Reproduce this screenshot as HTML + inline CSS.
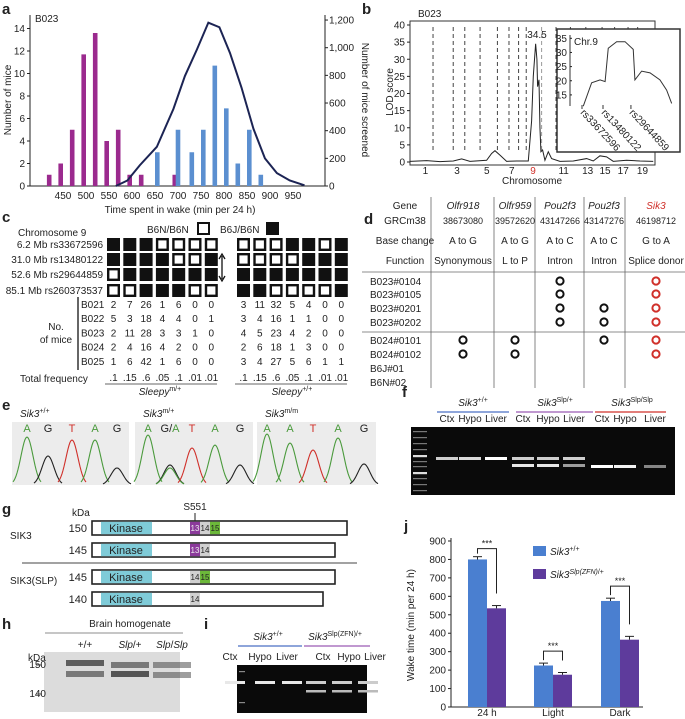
<!DOCTYPE html>
<html><head><meta charset="utf-8">
<style>
html,body{margin:0;padding:0;background:#fff;}
svg{display:block;font-family:"Liberation Sans",sans-serif;}
</style></head>
<body>
<svg id="fig" width="685" height="719" viewBox="0 0 685 719" xmlns="http://www.w3.org/2000/svg"></svg>
<script>
// ---------- Panel a data ----------
const aMagentaBins=[420,445,470,495,520,545,570,595,620,693];
const aMagentaCounts=[1,2,5,11.7,13.6,4,5,1,1,1];
const aBlueBins=[655,700,730,755,780,805,830,855,880];
const aBlueCounts=[3,5,3,5,10.7,6.9,2,5,1];
const aLineX=[565,590,617,654,690,715,741,766,790,813,838,864,889,915,943,975];
const aLineN=[0,40,150,283,557,795,986,1181,1148,962,712,414,200,93,40,5];
const aXTicks=[450,500,550,600,650,700,750,800,850,900,950];
const aLeftTicks=[0,2,4,6,8,10,12,14];
const aRightTicks=[0,200,400,600,800,1000,1200];
const aRightLabels=['0','200','400','600','800','1,000','1,200'];
// ---------- Panel b data ----------
const bGenomePos=[0,170,306,442,527,612,782,833,867,918,986,1088,1207,1241,1258,1282,1295,1302,1316,1326,1336,1353,1377,1411,1445,1530,1666,1802,1870,1938,2006,2074,2210,2346,2482];
const bLod=[0.2,0.4,0.1,0.3,0.9,0.2,0.5,2.5,3.3,2,0.2,0.3,0.3,12,25,34.5,30,22,24,10,3,3.5,0.5,3,1,0.2,0.3,1,0.3,1.8,1.5,0.2,0.5,0.3,0.2];
const bYTicks=[0,5,10,15,20,25,30,35,40];
const bChrLabels=['1','3','5','7','9','11','13','15','17','19'];
const bChrLabelPos=[157,480,784,1039,1255,1568,1813,1990,2176,2372];
const bChrBounds=[235,441,559,715,892,1010,1108,1186,1343,1490,1637,1794,1960,2088,2225,2323];
const insetPos=[0.6,4.6,8.6,11,12.5,16.5,20.5,24.4,25.2,28.4,32.4,37.1,40.3,42.7];
const insetLod=[11,19.3,20.3,19.7,31.5,33.8,33.8,31.1,20.3,23.4,22.8,20.3,16.7,12];
const insetTicks=[15,20,25,30,35];
const insetMarkers=['rs33672596','rs13480122','rs29644859'];
const insetMarkerPos=[0,10,23.3];
// ---------- Panel j data ----------
const jCats=['24 h','Light','Dark'];
const jWT=[800,225,575];
const jWTErr=[15,13,15];
const jMut=[535,175,365];
const jMutErr=[15,12,18];
const jTicks=[0,100,200,300,400,500,600,700,800,900];

const NS='http://www.w3.org/2000/svg';
const svg=document.getElementById('fig');
function mk(tag,attrs,name,parent){
  const e=document.createElementNS(NS,tag);
  for(const k in attrs) e.setAttribute(k,attrs[k]);
  
  
  (parent||svg).appendChild(e);
  return e;
}
function tx(x,y,s,name,o){
  o=o||{};
  const e=mk('text',{x:x,y:y,'font-size':o.fs||10,'text-anchor':o.a||'start',fill:o.c||'#222','font-weight':o.b?'bold':'normal','font-style':o.i?'italic':'normal'},name);
  if(o.rot!==undefined) e.setAttribute('transform','rotate('+o.rot+' '+x+' '+y+')');
  e.innerHTML=s;
  return e;
}
function ln(x1,y1,x2,y2,name,c,w,dash){
  const a={x1:x1,y1:y1,x2:x2,y2:y2,stroke:c||'#222','stroke-width':w||1};
  if(dash) a['stroke-dasharray']=dash;
  return mk('line',a,name);
}
function rc(x,y,w,h,name,fill,stroke,sw){
  return mk('rect',{x:x,y:y,width:w,height:h,fill:fill||'none',stroke:stroke||'none','stroke-width':sw||1},name);
}
const sup=s=>'<tspan dy="-4" font-size="7">'+s+'</tspan>';

// ================= Panel a =================
tx(2,14,'a','panel-a-label',{fs:15,b:true});
const xA=m=>63+(m-450)*23/50;
const yL=v=>186-v*11.25;
const yR=v=>186-v*0.1383;
ln(30,15,30,186,'a-left-axis');
ln(325,15,325,186,'a-right-axis');
ln(30,186,325,186,'a-x-axis');
aLeftTicks.forEach(v=>{ln(27,yL(v),30,yL(v),'a-left-tick');tx(25,yL(v)+3.5,String(v),'a-left-tick-label',{a:'end'});});
aRightTicks.forEach((v,i)=>{ln(325,yR(v),328,yR(v),'a-right-tick');tx(329,yR(v)+3.5,aRightLabels[i],'a-right-tick-label');});
aXTicks.forEach(v=>{tx(xA(v),199,String(v),'a-x-tick-label',{a:'middle'});});
tx(180,213,'Time spent in wake (min per 24 h)','a-x-axis-title',{a:'middle'});
tx(11,100,'Number of mice','a-left-axis-title',{a:'middle',rot:-90});
tx(362,100,'Number of mice screened','a-right-axis-title',{a:'middle',rot:90});
tx(35,22,'B023','a-strain-label');
aMagentaBins.forEach((b,i)=>{rc(xA(b)-2.3,yL(aMagentaCounts[i]),4.6,186-yL(aMagentaCounts[i]),'a-bar-sleepy','#9b2a8e');});
aBlueBins.forEach((b,i)=>{rc(xA(b)-2.3,yL(aBlueCounts[i]),4.6,186-yL(aBlueCounts[i]),'a-bar-normal','#5b8fd0');});
mk('polyline',{points:aLineX.map((m,i)=>xA(m)+','+yR(aLineN[i])).join(' '),fill:'none',stroke:'#1c2454','stroke-width':2},'a-screened-line');

// ================= Panel b =================
tx(362,14,'b','panel-b-label',{fs:15,b:true});
const xB=g=>410+g*245/2500;
const yB=v=>162-v*3.425;
rc(410,21,245,144,'b-plot-frame','none','#333',1);
bYTicks.forEach(v=>{ln(407,yB(v),410,yB(v),'b-y-tick');tx(405,yB(v)+3.5,String(v),'b-y-tick-label',{a:'end'});});
bChrLabels.forEach((s,i)=>{tx(xB(bChrLabelPos[i]),174,s,'b-chr-label',{a:'middle',c:s==='9'?'#d0302a':'#222'});});
tx(532,184,'Chromosome','b-x-axis-title',{a:'middle'});
tx(393,92,'LOD score','b-y-axis-title',{a:'middle',rot:-90});
tx(418,17,'B023','b-strain-label');
bChrBounds.forEach(g=>{ln(xB(g),27,xB(g),150,'b-chr-boundary',g===1343?'#999':'#444',1,'4,3');});
mk('polyline',{points:bGenomePos.map((g,i)=>xB(g)+','+yB(bLod[i])).join(' '),fill:'none',stroke:'#222','stroke-width':1},'b-lod-curve');
tx(537,38,'34.5','b-peak-label',{a:'middle'});
rc(557,29,123,123,'b-inset-frame','#fff','#333',1.5);
const xI=c=>582+c*2.1;
const yI=v=>38.3+(35-v)*2.83;
ln(570,35,570,106,'b-inset-y-axis','#333');
insetTicks.forEach(v=>{tx(567,yI(v)+3.5,String(v),'b-inset-y-tick-label',{a:'end'});ln(570,yI(v),572,yI(v),'b-inset-y-tick');});
tx(574,45,'Chr.9','b-inset-title');
mk('polyline',{points:insetPos.map((c,i)=>xI(c)+','+yI(insetLod[i])).join(' '),fill:'none',stroke:'#333','stroke-width':1},'b-inset-curve');
insetMarkers.forEach((s,i)=>{const x=xI(insetMarkerPos[i]);ln(x,105,x,109,'b-inset-marker-tick','#333');tx(x-2,113,s,'b-inset-marker-label',{rot:47,fs:10});});

// ================= Panel c =================
tx(2,222,'c','panel-c-label',{fs:15,b:true});
tx(18,236,'Chromosome 9','c-chromosome-title');
tx(147,233,'B6N/B6N','c-legend-b6n-text');
rc(198,223,11,11,'c-legend-open-square','#fff','#111',2);
tx(220,233,'B6J/B6N','c-legend-b6j-text');
rc(266,222,13,13,'c-legend-filled-square','#111');
const cMarkers=['6.2 Mb rs33672596','31.0 Mb rs13480122','52.6 Mb rs29644859','85.1 Mb rs260373537'];
const cLeft=[[1,1,1,0,0,0,0],[1,1,1,1,0,0,1],[0,1,1,1,1,1,1],[0,0,1,1,1,0,0]];
const cRight=[[0,0,0,1,1,0,1],[0,0,0,0,1,1,1],[1,1,1,1,1,1,1],[1,1,0,0,0,0,1]];
const rowY=[238,253,268,284];
cMarkers.forEach((m,r)=>{
  tx(103,rowY[r]+10,m,'c-marker-label',{a:'end'});
  for(let i=0;i<7;i++){
    [[cLeft,107],[cRight,237]].forEach(([g,x0])=>{
      const x=x0+i*16.3;
      if(g[r][i]) rc(x,rowY[r],13,13,'c-genotype-filled','#111');
      else rc(x+1.2,rowY[r]+1.2,10.6,10.6,'c-genotype-open','#fff','#111',2.4);
    });
  }
});
ln(222,256,222,279,'c-interval-arrow','#111',1.3);
mk('path',{d:'M219,259 L222,254 L225,259 M219,276 L222,281 L225,276',fill:'none',stroke:'#111','stroke-width':1.3},'c-arrow-heads');
const cRows=['B021','B022','B023','B024','B025'];
const cCounts=[[2,7,26,1,6,0,0,3,11,32,5,4,0,0],[5,3,18,4,4,0,1,3,4,16,1,1,0,0],[2,11,28,3,3,1,0,4,5,23,4,2,0,0],[2,4,16,4,2,0,0,2,6,18,1,3,0,0],[1,6,42,1,6,0,0,3,4,27,5,6,1,1]];
const cFreq=['.1','.15','.6','.05','.1','.01','.01','.1','.15','.6','.05','.1','.01','.01'];
ln(78,297,78,370,'c-row-bracket','#333',1.5);
tx(56,330,'No.','c-no-of-mice-label',{a:'middle'});
tx(56,343,'of mice','c-no-of-mice-label',{a:'middle'});
cRows.forEach((r,k)=>{
  const y=308+k*14.2;
  tx(81,y,r,'c-family-label');
  cCounts[k].forEach((v,i)=>{const x=(i<7?113.5+i*16.3:243.5+(i-7)*16.3);tx(x,y,String(v),'c-count',{a:'middle'});});
});
tx(20,382,'Total frequency','c-total-frequency-label');
cFreq.forEach((v,i)=>{const x=(i<7?113.5+i*16.3:243.5+(i-7)*16.3);tx(x,381,v,'c-frequency',{a:'middle'});});
ln(105,384,217,384,'c-left-underline','#333',0.8);
ln(235,384,347,384,'c-right-underline','#333',0.8);
tx(160,395,'<tspan font-style="italic">Sleepy</tspan>'+sup('m/+'),'c-sleepy-mutant-label',{a:'middle'});
tx(292,395,'<tspan font-style="italic">Sleepy</tspan>'+sup('+/+'),'c-sleepy-wt-label',{a:'middle'});

// ================= Panel d =================
tx(364,224,'d','panel-d-label',{fs:15,b:true});
[431,494,535,584,625].forEach(x=>ln(x,197,x,388,'d-column-divider','#666',0.8));
ln(362,272,685,272,'d-header-divider','#666',0.8);
ln(362,332,685,332,'d-group-divider','#666',0.8);
tx(405,209,'Gene','d-row-header',{a:'middle'});
tx(405,224,'GRCm38','d-row-header',{a:'middle'});
tx(405,244,'Base change','d-row-header',{a:'middle'});
tx(405,264,'Function','d-row-header',{a:'middle'});
const dCols=[463,515,560,604,656];
const dGenes=['Olfr918','Olfr959','Pou2f3','Pou2f3','Sik3'];
const dPos=['38673080','39572620','43147266','43147276','46198712'];
const dBase=['A to G','A to G','A to C','A to C','G to A'];
const dFunc=['Synonymous','L to P','Intron','Intron','Splice donor'];
dCols.forEach((x,i)=>{
  tx(x,209,dGenes[i],'d-gene-name',{a:'middle',i:true,c:i===4?'#d0302a':'#222'});
  tx(x,224,dPos[i],'d-position',{a:'middle',fs:9});
  tx(x,244,dBase[i],'d-base-change',{a:'middle'});
  tx(x,264,dFunc[i],'d-function',{a:'middle'});
});
const dSamples=['B023#0104','B023#0105','B023#0201','B023#0202','B024#0101','B024#0102','B6J#01','B6N#02'];
const dY=[281,294,308,322,340,354,368,382];
const dHits=[[0,0,1,0,1],[0,0,1,0,1],[0,0,1,1,1],[0,0,1,1,1],[1,1,0,1,1],[1,1,0,0,1],[0,0,0,0,0],[0,0,0,0,0]];
dSamples.forEach((s,r)=>{
  tx(370,dY[r]+4,s,'d-sample-label');
  dHits[r].forEach((h,c)=>{if(h) mk('circle',{cx:dCols[c],cy:dY[r],r:3.6,fill:'none',stroke:c===4?'#d0302a':'#111','stroke-width':2},'d-variant-circle');});
});

// ================= Panel e =================
tx(2,410,'e','panel-e-label',{fs:15,b:true});
const eBoxes=[[12,129,'Sik3'+sup('+/+'),[['A',27,48,'#4a9a3c'],['G',48,29,'#222'],['T',72,45,'#d0302a'],['A',95,45,'#4a9a3c'],['G',117,17,'#222']]],
 [135,253,'Sik3'+sup('m/+'),[['A',148,50,'#4a9a3c'],['G',170,20,'#222'],['',170,17,'#4a9a3c'],['T',192,37,'#d0302a'],['A',215,40,'#4a9a3c'],['G',240,20,'#222']]],
 [257,376,'Sik3'+sup('m/m'),[['A',267,51,'#4a9a3c'],['A',290,42,'#4a9a3c'],['T',313,35,'#d0302a'],['A',338,47,'#4a9a3c'],['G',364,21,'#222']]]];
eBoxes.forEach(([x0,x1,lab,pk],k)=>{
  rc(x0,422,x1-x0,63,'e-chromatogram-background','#ececec');
  tx(x0+8,417,'<tspan font-style="italic">'+lab.replace('<tspan','</tspan><tspan')+'</tspan>','e-genotype-label');
  pk.forEach(([L,cx,h,c])=>{
    let d='';for(let t=-14;t<=14;t+=1){const y=485-h*Math.exp(-(t*t)/(2*36));d+=(t===-14?'M':'L')+(cx+t)+','+y.toFixed(1);}
    mk('path',{d:d,fill:'none',stroke:c,'stroke-width':1.1},'e-trace-peak');
    if(L) tx(cx,432,k===1&&cx===170?'G/<tspan fill="#4a9a3c">A</tspan>':L,'e-base-call',{a:'middle',c:c,fs:11});
  });
});

// ================= Panel f =================
tx(402,397,'f','panel-f-label',{fs:15,b:true});
tx(473,406,'<tspan font-style="italic">Sik3</tspan>'+sup('+/+'),'f-group-label-wt',{a:'middle'});
tx(555,406,'<tspan font-style="italic">Sik3</tspan>'+sup('Slp/+'),'f-group-label-het',{a:'middle'});
tx(632,406,'<tspan font-style="italic">Sik3</tspan>'+sup('Slp/Slp'),'f-group-label-hom',{a:'middle'});
ln(437,412,509,412,'f-group-line-wt','#4a6fc4',1.2);
ln(516,412,593,412,'f-group-line-het','#9b5bb5',1.2);
ln(595,412,666,412,'f-group-line-hom','#d0302a',1.2);
const fLanes=[447,470,496,523,548,574,602,625,655];
const fNames=['Ctx','Hypo','Liver','Ctx','Hypo','Liver','Ctx','Hypo','Liver'];
fLanes.forEach((x,i)=>tx(x,422,fNames[i],'f-lane-label',{a:'middle'}));
rc(411,427,264,68,'f-gel','#0a0a0a');
[431,437,443,449,455,461,466,472,478,484,490].forEach((y,i)=>rc(413,y,14,i===4||i===7?2.2:1.2,'f-ladder-band',i===4||i===7?'#ddd':'#777'));
const fUp=[0.8,0.85,1,0.8,0.8,0.8,0,0,0], fLo=[0,0,0,0.9,0.9,0.6,1,0.95,0.5];
fLanes.forEach((x,i)=>{
  if(fUp[i]) rc(x-11,457,22,3,'f-band-upper','rgba(255,255,255,'+fUp[i]+')');
  if(fLo[i]) rc(x-11,i>5?465:464,22,3,'f-band-lower','rgba(255,255,255,'+fLo[i]+')');
});

// ================= Panel g =================
tx(2,514,'g','panel-g-label',{fs:15,b:true});
tx(72,516,'kDa','g-kda-label');
tx(195,510,'S551','g-site-label',{a:'middle'});
ln(195,513,195,521,'g-site-tick','#222',1);
const gBars=[[521,347,'150',['13','14','15']],[543,335,'145',['13','14']],[570,335,'145',['14','15']],[592,323,'140',['14']]];
const gCol={'13':'#8b3a9b','14':'#d0d0d0','15':'#6cb83a'};
gBars.forEach(([y,x1,k,ex])=>{
  rc(92,y,x1-92,14,'g-protein-bar','#fff','#222',1.6);
  rc(101,y+0.8,51,12.4,'g-kinase-domain','#7fcbd8');
  tx(126,y+11,'Kinase','g-kinase-label',{a:'middle',fs:11});
  tx(87,y+11,k,'g-kda-value',{a:'end',fs:11});
  ex.forEach((e,j)=>{const x=190+j*10;rc(x,y+0.8,10,12.4,'g-exon-'+e,gCol[e]);tx(x+5,y+10,e,'g-exon-label',{a:'middle',fs:8,c:e==='13'?'#eee':'#222'});});
});
ln(22,563,357,563,'g-divider','#444',1);
tx(10,539,'SIK3','g-sik3-label');
tx(10,584,'SIK3(SLP)','g-sik3-slp-label');

// ================= Panel h =================
tx(2,629,'h','panel-h-label',{fs:15,b:true});
tx(130,627,'Brain homogenate','h-title',{a:'middle'});
ln(45,633,183,633,'h-title-line','#666',0.8);
tx(85,648,'+/+','h-lane-label',{a:'middle'});
tx(130,648,'<tspan font-style="italic">Slp</tspan>/+','h-lane-label',{a:'middle'});
tx(172,648,'<tspan font-style="italic">Slp</tspan>/<tspan font-style="italic">Slp</tspan>','h-lane-label',{a:'middle'});
rc(44,652,136,60,'h-blot','#dcdcdc');
[[85,663,0.7],[85,674,0.55],[130,665,0.55],[130,674,0.75],[172,665,0.45],[172,675,0.45]].forEach(([x,y,o])=>rc(x-19,y-3,38,6,'h-blot-band','rgba(40,40,40,'+o+')'));
tx(28,661,'kDa','h-kda-label');
tx(46,668,'150','h-150-label',{a:'end'});ln(36,665,42,665,'h-150-tick','#444');
tx(46,697,'140','h-140-label',{a:'end'});ln(36,694,42,694,'h-140-tick','#444');

// ================= Panel i =================
tx(204,629,'i','panel-i-label',{fs:15,b:true});
tx(268,640,'<tspan font-style="italic">Sik3</tspan>'+sup('+/+'),'i-group-label-wt',{a:'middle'});
tx(335,640,'<tspan font-style="italic">Sik3</tspan>'+sup('Slp(ZFN)/+'),'i-group-label-het',{a:'middle'});
ln(238,646,302,646,'i-group-line-wt','#4a6fc4',1.2);
ln(304,646,370,646,'i-group-line-het','#9b5bb5',1.2);
const iLanes=[230,260,287,323,349,375];
['Ctx','Hypo','Liver','Ctx','Hypo','Liver'].forEach((s,i)=>tx(iLanes[i],660,s,'i-lane-label',{a:'middle'}));
rc(237,665,130,48,'i-gel','#0a0a0a');
[671,702].forEach(y=>rc(239,y,6,1.2,'i-ladder-band','#888'));
[0,1,2].forEach(i=>rc(iLanes[i]+5-10,681,20,3,'i-band-upper','#e8e8e8'));
[3,4,5].forEach(i=>{rc(iLanes[i]-17,681,20,3,'i-band-upper','#ccc');rc(iLanes[i]-17,690,20,2.5,'i-band-lower','#bbb');});

// ================= Panel j =================
tx(404,531,'j','panel-j-label',{fs:15,b:true});
const yJ=v=>707-v*166/900;
const jCx=[487,553,620];
ln(451,538,451,707,'j-y-axis');
ln(451,707,643,707,'j-x-axis');
jTicks.forEach(v=>{ln(448,yJ(v),451,yJ(v),'j-y-tick');tx(446,yJ(v)+3.5,String(v),'j-y-tick-label',{a:'end'});});
tx(414,625,'Wake time (min per 24 h)','j-y-axis-title',{a:'middle',rot:-90});
jCats.forEach((c,i)=>{
  const x=jCx[i];
  tx(x,716,c,'j-x-tick-label',{a:'middle'});
  rc(x-19,yJ(jWT[i]),19,707-yJ(jWT[i]),'j-bar-wt','#4a7fd0');
  rc(x,yJ(jMut[i]),19,707-yJ(jMut[i]),'j-bar-mutant','#5e3b9c');
  ln(x-9.5,yJ(jWT[i]),x-9.5,yJ(jWT[i]+jWTErr[i]),'j-error-bar-wt','#222');
  ln(x-14,yJ(jWT[i]+jWTErr[i]),x-5,yJ(jWT[i]+jWTErr[i]),'j-error-cap-wt','#222');
  ln(x+9.5,yJ(jMut[i]),x+9.5,yJ(jMut[i]+jMutErr[i]),'j-error-bar-mutant','#222');
  ln(x+5,yJ(jMut[i]+jMutErr[i]),x+14,yJ(jMut[i]+jMutErr[i]),'j-error-cap-mutant','#222');
  const top=yJ(Math.max(jWT[i]+jWTErr[i],jMut[i]+jMutErr[i]))-(i===0?8:12);
  mk('polyline',{points:(x-9.5)+','+(yJ(jWT[i]+jWTErr[i])-3)+' '+(x-9.5)+','+top+' '+(x+9.5)+','+top+' '+(x+9.5)+','+(yJ(jMut[i]+jMutErr[i])-12),fill:'none',stroke:'#222','stroke-width':1},'j-significance-bracket');
  tx(x,top-2,'***','j-significance-stars',{a:'middle',fs:9});
});
rc(533,546,13,10,'j-legend-swatch-wt','#4a7fd0');
tx(550,555,'<tspan font-style="italic">Sik3</tspan>'+sup('+/+'),'j-legend-label-wt');
rc(533,569,13,10,'j-legend-swatch-mutant','#5e3b9c');
tx(550,578,'<tspan font-style="italic">Sik3</tspan>'+sup('<tspan font-style="italic">Slp(ZFN)</tspan>/+'),'j-legend-label-mutant');
</script>
</body></html>
